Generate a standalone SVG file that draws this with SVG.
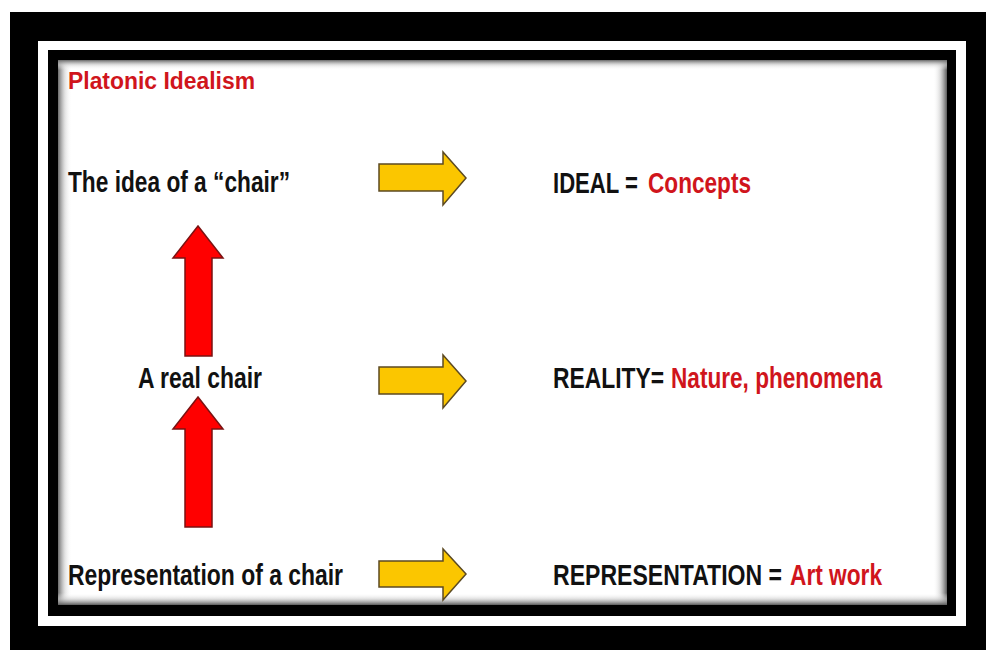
<svg xmlns="http://www.w3.org/2000/svg" width="986" height="650" viewBox="0 0 986 650">
  <defs>
    <linearGradient id="gl" x1="0" y1="0" x2="1" y2="0">
      <stop offset="0" stop-color="#6a6a6a"/>
      <stop offset="0.5" stop-color="#d0d0d0" stop-opacity="0.6"/>
      <stop offset="1" stop-color="#ffffff" stop-opacity="0"/>
    </linearGradient>
    <linearGradient id="gr" x1="1" y1="0" x2="0" y2="0">
      <stop offset="0" stop-color="#5a5a5a"/>
      <stop offset="0.5" stop-color="#c8c8c8" stop-opacity="0.6"/>
      <stop offset="1" stop-color="#ffffff" stop-opacity="0"/>
    </linearGradient>
    <linearGradient id="gt" x1="0" y1="0" x2="0" y2="1">
      <stop offset="0" stop-color="#6a6a6a"/>
      <stop offset="0.5" stop-color="#d0d0d0" stop-opacity="0.6"/>
      <stop offset="1" stop-color="#ffffff" stop-opacity="0"/>
    </linearGradient>
    <linearGradient id="gb" x1="0" y1="1" x2="0" y2="0">
      <stop offset="0" stop-color="#5a5a5a"/>
      <stop offset="0.5" stop-color="#c8c8c8" stop-opacity="0.6"/>
      <stop offset="1" stop-color="#ffffff" stop-opacity="0"/>
    </linearGradient>
    <style>
      .t { font-family: "Liberation Sans", Arial, sans-serif; font-weight: bold; font-size: 22.5px; fill: #111111; }
      .red { fill: #d0151c; }
      .ya { fill: #fbc600; stroke: #5c4a22; stroke-width: 1.5; stroke-linejoin: miter; }
      .ra { fill: #ff0000; stroke: #7a1212; stroke-width: 1.5; stroke-linejoin: miter; }
    </style>
  </defs>

  <!-- frame -->
  <rect x="0" y="0" width="986" height="650" fill="#ffffff"/>
  <rect x="10" y="12" width="976" height="638" fill="#000000"/>
  <rect x="38" y="41" width="928" height="585" fill="#ffffff"/>
  <rect x="48" y="50" width="908" height="566" fill="#000000"/>
  <rect x="58" y="60" width="889" height="545" fill="#ffffff"/>
  <rect x="58" y="60" width="14" height="545" fill="url(#gl)"/>
  <rect x="933" y="60" width="14" height="545" fill="url(#gr)"/>
  <rect x="58" y="60" width="889" height="10" fill="url(#gt)"/>
  <rect x="58" y="593" width="889" height="12" fill="url(#gb)"/>

  <g id="title">
    <text class="t red" x="68" y="89" textLength="187" lengthAdjust="spacingAndGlyphs" style="font-size:23px">Platonic Idealism</text>
  </g>

  <g id="idea-chair">
    <text class="t" transform="translate(68,192) scale(1,1.3)" textLength="222" lengthAdjust="spacingAndGlyphs">The idea of a “chair”</text>
  </g>
  <g id="real-chair">
    <text class="t" transform="translate(138,388) scale(1,1.3)" textLength="124" lengthAdjust="spacingAndGlyphs">A real chair</text>
  </g>
  <g id="representation-chair">
    <text class="t" transform="translate(68,585) scale(1,1.3)" textLength="275" lengthAdjust="spacingAndGlyphs">Representation of a chair</text>
  </g>

  <g id="ideal">
    <text class="t" transform="translate(553,193) scale(1,1.3)" textLength="85" lengthAdjust="spacingAndGlyphs">IDEAL =</text>
    <text class="t red" transform="translate(648,193) scale(1,1.3)" textLength="103" lengthAdjust="spacingAndGlyphs">Concepts</text>
  </g>
  <g id="reality">
    <text class="t" transform="translate(553,388) scale(1,1.3)" textLength="111" lengthAdjust="spacingAndGlyphs">REALITY=</text>
    <text class="t red" transform="translate(671,388) scale(1,1.3)" textLength="211" lengthAdjust="spacingAndGlyphs">Nature, phenomena</text>
  </g>
  <g id="representation">
    <text class="t" transform="translate(553,585) scale(1,1.3)" textLength="229" lengthAdjust="spacingAndGlyphs">REPRESENTATION =</text>
    <text class="t red" transform="translate(790,585) scale(1,1.3)" textLength="92" lengthAdjust="spacingAndGlyphs">Art work</text>
  </g>

  <g id="connectors">
    <path class="ya" d="M379,164 L443,164 L443,152 L466,178 L443,205 L443,191 L379,191 Z"/>
    <path class="ya" d="M379,367 L443,367 L443,355 L466,381 L443,408 L443,394 L379,394 Z"/>
    <path class="ya" d="M379,561 L443,561 L443,549 L466,574 L443,600 L443,587 L379,587 Z"/>
    <path class="ra" d="M198,226 L223,258 L212,258 L212,356 L185,356 L185,258 L173,258 Z"/>
    <path class="ra" d="M198,397 L223,429 L212,429 L212,527 L185,527 L185,429 L173,429 Z"/>
  </g>
</svg>
